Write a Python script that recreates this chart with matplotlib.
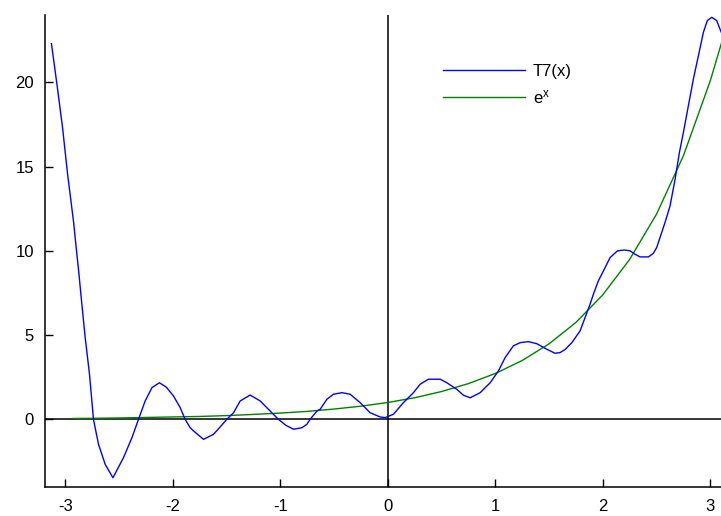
import numpy as np
import matplotlib
matplotlib.use("Agg")
import matplotlib.pyplot as plt

plt.rcParams['font.family'] = ['Liberation Sans', 'DejaVu Sans']
plt.rcParams['mathtext.fontset'] = 'custom'
plt.rcParams['mathtext.rm'] = 'Liberation Sans'
plt.rcParams['axes.unicode_minus'] = False

# T7(x)
t7_x = [-3.13, -3.075, -3.027, -2.98, -2.925, -2.90, -2.877, -2.847, -2.816, -2.776,
        -2.739, -2.692, -2.63, -2.558, -2.46, -2.381, -2.32, -2.258, -2.195, -2.125,
        -2.06, -1.994, -1.932, -1.886, -1.839, -1.808, -1.715, -1.622, -1.56, -1.498,
        -1.436, -1.374, -1.281, -1.188, -1.095, -1.018, -0.95, -0.878, -0.80, -0.754,
        -0.723, -0.66, -0.63, -0.567, -0.506, -0.428, -0.351, -0.258, -0.165, -0.072,
        -0.025, 0.052, 0.145, 0.238, 0.30, 0.378, 0.424, 0.487, 0.549, 0.642,
        0.703, 0.766, 0.859, 0.952, 1.029, 1.091, 1.168, 1.231, 1.308, 1.386,
        1.479, 1.556, 1.603, 1.65, 1.712, 1.789, 1.835, 1.876, 1.913, 1.959,
        2.006, 2.068, 2.136, 2.20, 2.254, 2.30, 2.347, 2.424, 2.47, 2.502,
        2.533, 2.58, 2.626, 2.673, 2.713, 2.75, 2.796, 2.843, 2.89, 2.936,
        2.973, 3.014, 3.06, 3.09, 3.14]
t7_y = [22.3, 19.7, 17.33, 14.56, 11.76, 10.2, 8.81, 6.83, 4.85, 2.67,
        0.0, -1.49, -2.67, -3.47, -2.28, -1.09, 0.0, 1.09, 1.88, 2.17,
        1.9, 1.38, 0.69, 0.0, -0.5, -0.69, -1.19, -0.89, -0.45, 0.0,
        0.39, 1.09, 1.44, 1.09, 0.49, 0.0, -0.35, -0.59, -0.5, -0.30,
        0.0, 0.49, 0.59, 1.19, 1.49, 1.58, 1.49, 0.99, 0.39, 0.14,
        0.1, 0.3, 0.99, 1.58, 2.08, 2.38, 2.38, 2.38, 2.17, 1.78,
        1.43, 1.28, 1.58, 2.17, 2.87, 3.66, 4.36, 4.55, 4.61, 4.49,
        4.16, 3.92, 3.96, 4.15, 4.55, 5.25, 6.04, 6.73, 7.43, 8.22,
        8.81, 9.60, 10.0, 10.05, 10.0, 9.8, 9.64, 9.64, 9.85, 10.2,
        10.8, 11.7, 12.67, 14.26, 15.84, 17.03, 18.6, 20.2, 21.59, 22.97,
        23.67, 23.86, 23.67, 23.17, 22.4]

# e^x
ex_x = [-2.93, -2.75, -2.5, -2.25, -2.0, -1.75, -1.5, -1.25, -1.0, -0.75, -0.5,
        -0.25, 0.0, 0.25, 0.5, 0.75, 1.0, 1.25, 1.5, 1.75, 2.0, 2.25, 2.5,
        2.75, 3.0, 3.14]
ex_y = [0.05, 0.06, 0.08, 0.11, 0.14, 0.17, 0.22, 0.29, 0.37, 0.47, 0.61,
        0.78, 1.0, 1.28, 1.65, 2.12, 2.72, 3.49, 4.48, 5.75, 7.39, 9.49, 12.18,
        15.64, 20.09, 23.1]

fig = plt.figure(figsize=(7.21, 5.16), dpi=100)
ax = fig.add_axes([45 / 721, 29.3 / 516, 676 / 721, 471.7 / 516])

ax.axhline(0, color='black', lw=1.1, zorder=1)
ax.axvline(0, color='black', lw=1.1, zorder=1)
ax.plot(t7_x, t7_y, color='#0000ff', lw=1.0, label='T7(x)', zorder=3)
ax.plot(ex_x, ex_y, color='#008000', lw=1.0, label=r'$\mathregular{e^x}$', zorder=2)

ax.set_xlim(-3.19, 3.10)
ax.set_ylim(-4, 24)
ax.set_xticks([-3, -2, -1, 0, 1, 2, 3])
ax.set_yticks([0, 5, 10, 15, 20])
ax.spines['top'].set_visible(False)
ax.spines['right'].set_visible(False)
for s in ('left', 'bottom'):
    ax.spines[s].set_linewidth(1.1)
ax.tick_params(direction='in', length=5.5, width=1, labelsize=12, colors='black')
ax.tick_params(axis='x', pad=9)
ax.tick_params(axis='y', pad=8)

ax.legend(loc='upper left', bbox_to_anchor=(443 / 721, 1 - 64 / 516),
          bbox_transform=fig.transFigure, frameon=False, fontsize=12,
          handlelength=4.9, handletextpad=0.5, borderpad=0, borderaxespad=0,
          labelspacing=0.55)

fig.savefig('out.png', dpi=100)
